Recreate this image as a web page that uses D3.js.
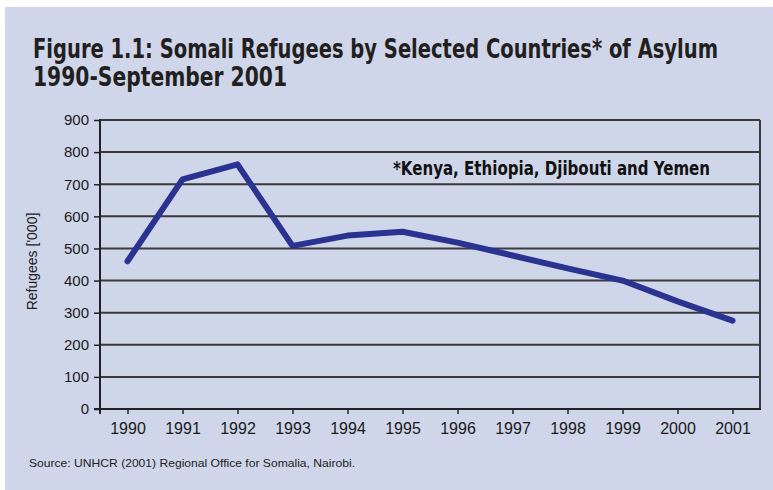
<!DOCTYPE html>
<html>
<head>
<meta charset="utf-8">
<script src="https://cdn.jsdelivr.net/npm/d3@7"></script>
<style>
  body { margin: 0; background: #fff; }
  svg { display: block; }
</style>
</head>
<body>
<div id="chart"></div>
<script>
// data (thousands of refugees)
var years = ["1990", "1991", "1992", "1993", "1994", "1995", "1996", "1997", "1998", "1999", "2000", "2001"];
var refugees = [460, 715, 762, 508, 540, 552, 518, 478, 438, 400, 335, 275];
var yTicks = [0, 100, 200, 300, 400, 500, 600, 700, 800, 900];

var W = 773, H = 490;
var margin = {top: 120, right: 13, bottom: 81, left: 100},
    width = W - margin.left - margin.right,
    height = H - margin.top - margin.bottom;

var svg = d3.select("#chart")
  .append("svg")
    .attr("width", W)
    .attr("height", H);

// panel background
svg.append("rect")
    .attr("x", 5).attr("y", 7)
    .attr("width", W - 5).attr("height", H - 7)
    .attr("fill", "#cfd6e9");

// title, narrow bold face stretched a bit taller
var titleFont = "'DejaVu Sans Condensed', 'Liberation Sans Narrow', sans-serif";
svg.append("text")
    .attr("transform", "translate(33,58) scale(1,1.15)")
    .attr("textLength", 685).attr("lengthAdjust", "spacingAndGlyphs")
    .style("font-family", titleFont).style("font-weight", "bold")
    .style("font-size", "23px").attr("fill", "#231f20")
    .text("Figure 1.1: Somali Refugees by Selected Countries* of Asylum");
svg.append("text")
    .attr("transform", "translate(33,86) scale(1,1.15)")
    .attr("textLength", 254).attr("lengthAdjust", "spacingAndGlyphs")
    .style("font-family", titleFont).style("font-weight", "bold")
    .style("font-size", "23px").attr("fill", "#231f20")
    .text("1990-September 2001");

var g = svg.append("g")
    .attr("transform", "translate(" + margin.left + "," + margin.top + ")");

// scales
var x = d3.scalePoint()
    .domain(years)
    .range([0, width])
    .padding(0.5);

var y = d3.scaleLinear()
    .domain([0, 900])
    .range([height, 0]);

// gridlines
g.selectAll(".grid")
    .data(yTicks.filter(function(d) { return d > 0; }))
  .enter().append("line")
    .attr("class", "grid")
    .attr("x1", 0).attr("x2", width)
    .attr("y1", function(d) { return y(d); })
    .attr("y2", function(d) { return y(d); })
    .attr("stroke", "#3a3a3e")
    .attr("stroke-width", 2);

// right border of plot area
g.append("line")
    .attr("x1", width).attr("x2", width)
    .attr("y1", 0).attr("y2", height)
    .attr("stroke", "#3a3a3e")
    .attr("stroke-width", 2);

// y axis
var yAxis = d3.axisLeft(y)
    .tickValues(yTicks)
    .tickSize(6)
    .tickPadding(5);

var ya = g.append("g").call(yAxis);
ya.select(".domain").remove();
ya.selectAll("line").attr("stroke", "#222").attr("stroke-width", 1.5);
ya.selectAll("text")
    .style("font-family", "'Liberation Sans', Arial, sans-serif")
    .style("font-size", "15px").attr("fill", "#1a1a1a");

// x axis
var xAxis = d3.axisBottom(x)
    .tickSize(5)
    .tickPadding(9);

var xa = g.append("g")
    .attr("transform", "translate(0," + height + ")")
    .call(xAxis);
xa.select(".domain").remove();
xa.selectAll("line").attr("stroke", "#222").attr("stroke-width", 1.5);
xa.selectAll("text")
    .style("font-family", "'Liberation Sans', Arial, sans-serif")
    .style("font-size", "16px").attr("fill", "#1a1a1a");

// axis lines
g.append("line")
    .attr("x1", -6).attr("x2", width + 1)
    .attr("y1", height).attr("y2", height)
    .attr("stroke", "#222").attr("stroke-width", 2);
g.append("line")
    .attr("x1", 0).attr("x2", 0)
    .attr("y1", -1).attr("y2", height + 5)
    .attr("stroke", "#222").attr("stroke-width", 2);

// y axis title
g.append("text")
    .attr("transform", "translate(-63," + (height / 2 - 3) + ") rotate(-90)")
    .attr("text-anchor", "middle")
    .style("font-family", "'Liberation Sans', Arial, sans-serif")
    .style("font-size", "14px").attr("fill", "#222")
    .text("Refugees ['000]");

// the series
var line = d3.line()
    .x(function(d, i) { return x(years[i]); })
    .y(function(d) { return y(d); });

g.append("path")
    .datum(refugees)
    .attr("d", line)
    .attr("fill", "none")
    .attr("stroke", "#2b3391")
    .attr("stroke-width", 6)
    .attr("stroke-linejoin", "round")
    .attr("stroke-linecap", "round");

// note
g.append("text")
    .attr("transform", "translate(293,55) scale(1,1.15)")
    .attr("textLength", 317).attr("lengthAdjust", "spacingAndGlyphs")
    .style("font-family", titleFont).style("font-weight", "bold")
    .style("font-size", "17px").attr("fill", "#111")
    .text("*Kenya, Ethiopia, Djibouti and Yemen");

// source
svg.append("text")
    .attr("x", 29).attr("y", 467)
    .attr("textLength", 326).attr("lengthAdjust", "spacingAndGlyphs")
    .style("font-family", "'Liberation Sans', Arial, sans-serif")
    .style("font-size", "11.5px").attr("fill", "#222")
    .text("Source: UNHCR (2001) Regional Office for Somalia, Nairobi.");
</script>
</body>
</html>
